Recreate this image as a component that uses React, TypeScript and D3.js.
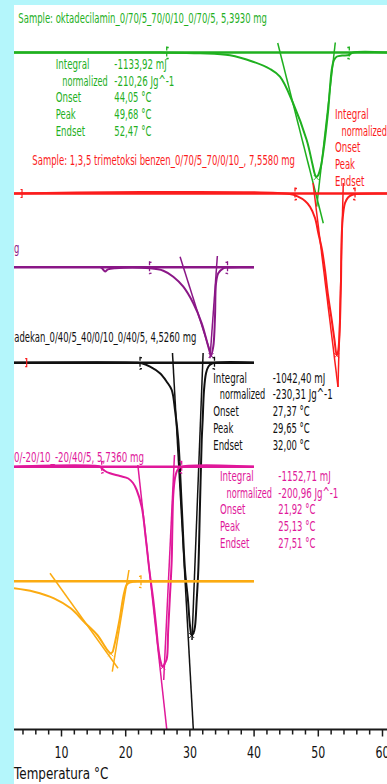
import React from "react";
import * as d3 from "d3";

type Pt = [number, number];

// Temperature axis (°C)
const majorTicks = [10, 20, 30, 40, 50, 60];
const minorTicks = [4, 6, 8, 12, 14, 16, 18, 22, 24, 26, 28, 32, 34, 36, 38, 42, 44, 46, 48, 52, 54, 56, 58];

// Heat-flow offsets of each stacked run (mW, plot units)
const offsets = { green: 67.65, red: 53.55, purple: 46.17, black: 36.63, pink: 26.23, orange: 14.77 };

// Curves: [temperature °C, heat flow relative to run baseline]
const greenCurve: Pt[] = [
  [2.6, 0], [16, 0], [25.3, -0.01], [31.6, -0.08], [36.25, -0.28], [39.83, -0.92], [42.48, -1.65],
  [44.03, -2.42], [46.06, -5.05], [48.19, -8.75], [49.1, -11.2], [49.45, -12.15], [49.68, -12.45],
  [49.95, -12.3], [50.4, -11.4], [50.85, -9.6], [51.5, -6.05], [52.09, -1.75], [52.45, -0.75],
  [52.91, -0.4], [53.7, -0.3], [54.8, -0.25], [55.3, -0.02], [60.8, 0],
];
const redCurve: Pt[] = [
  [2.6, 0], [45.59, -0.05], [46.85, -0.32], [47.94, -0.75], [48.71, -1.32], [49.49, -2.45], [50.0, -3.95],
  [50.58, -5.65], [51.04, -7.65], [51.51, -10.15], [52.09, -12.65], [52.52, -14.65], [52.87, -16.15],
  [53.07, -15.85], [53.3, -14.15], [53.43, -11.65], [53.54, -8.65], [53.64, -4.32], [53.85, -2.15],
  [54.16, -0.95], [54.63, -0.4], [55.2, -0.15], [55.87, -0.05], [60.8, 0],
];
const purpleCurve: Pt[] = [
  [2.6, 0.03], [15.69, 0.03], [16.0, 0.02], [16.31, -0.1], [16.78, -0.42], [17.24, -0.2], [18.33, -0.09],
  [23.79, -0.1], [25.86, -0.34], [27.41, -0.94], [28.97, -1.94], [30.53, -3.6], [31.84, -5.6],
  [32.87, -7.94], [33.29, -8.77], [33.64, -7.94], [33.91, -4.94], [34.07, -1.6], [34.42, -0.6],
  [35.2, -0.1], [35.93, -0.02], [39.98, 0],
];
const blackCurve: Pt[] = [
  [2.6, 0], [21.45, 0], [22.49, -0.06], [23.79, -0.4], [25.34, -1.06], [26.39, -1.9], [27.17, -2.73],
  [27.68, -4.73], [28.19, -7.73], [28.72, -14.23], [29.24, -20.73], [29.7, -23.73], [30.02, -26.33],
  [30.28, -27.23], [30.56, -27.03], [30.79, -26.4], [31.06, -23.73], [31.31, -20.73], [31.57, -14.23],
  [31.84, -7.73], [31.99, -5.73], [32.2, -2.73], [32.51, -1.06], [32.87, -0.4], [33.44, -0.08], [39.98, 0],
];
const pinkCurve: Pt[] = [
  [2.6, 0], [16.0, 0], [16.26, -0.16], [16.78, -0.43], [17.55, -0.66], [19.11, -0.93], [20.4, -1.18],
  [21.14, -1.63], [21.71, -2.33], [22.49, -4.0], [23.16, -7.33], [23.68, -10.33], [24.3, -13.33],
  [24.8, -16.33], [25.08, -18.13], [25.42, -19.43], [25.76, -20.0], [26.04, -19.73], [26.39, -19.23],
  [26.62, -16.33], [26.86, -13.33], [27.17, -9.33], [27.26, -6.33], [27.41, -2.83], [27.68, -1.13],
  [27.94, -0.5], [28.46, -0.06], [39.98, 0],
];
const orangeCurve: Pt[] = [
  [2.6, -0.7], [5.72, -1.04], [8.83, -1.7], [11.43, -2.7], [13.5, -4.04], [15.58, -5.37], [17.13, -6.87],
  [17.66, -7.2], [17.94, -7.07], [18.18, -6.54], [19.03, -3.87], [19.74, -1.2], [20.25, -0.27],
  [21.29, -0.04], [22.38, -0.02], [39.98, 0],
];

// Integration limits (°C)
const greenLimits = [26.39, 54.83];
const redLimits = [46.37, 55.72];
const purpleLimits = [23.71, 35.86];
const blackLimits = [22.23, 33.83];
const pinkLimits = [16.26, 28.72];
const orangeLimits = [22.38];

// Onset / endset tangents: baseline crossing (°C), top value, far end point
type Tangent = { cross: number; top: number; end: Pt };
const greenTangents: Tangent[] = [
  { cross: 44.05, top: 0.95, end: [50.78, -17.08] },
  { cross: 52.47, top: 1.0, end: [49.75, -15.42] },
];
const redTangents: Tangent[] = [
  { cross: 49.38, top: 1.05, end: [53.07, -19.35] },
  { cross: 53.85, top: 1.05, end: [53.07, -19.35] },
];
const purpleTangents: Tangent[] = [
  { cross: 28.99, top: 1.06, end: [33.4, -8.94] },
  { cross: 34.15, top: 1.13, end: [33.13, -9.1] },
];
const blackTangents: Tangent[] = [
  { cross: 27.37, top: 0.97, end: [30.53, -36.63] },
  { cross: 32.0, top: 0.97, end: [30.33, -27.73] },
];
const pinkTangents: Tangent[] = [
  { cross: 21.92, top: 0.17, end: [26.39, -26.23] },
  { cross: 27.51, top: 1.17, end: [25.92, -21.33] },
];
const orangeTangents: Tangent[] = [
  { cross: 9.1, top: 0.8, end: [18.8, -8.7] },
  { cross: 20.22, top: 1.13, end: [17.91, -9.04] },
];

// Result tables
const resultLabels = ["Integral", "normalized", "Onset", "Peak", "Endset"];
const greenResults = ["-1133,92 mJ", "-210,26 Jg^-1", "44,05 °C", "49,68 °C", "52,47 °C"];
const blackResults = ["-1042,40 mJ", "-230,31 Jg^-1", "27,37 °C", "29,65 °C", "32,00 °C"];
const pinkResults = ["-1152,71 mJ", "-200,96 Jg^-1", "21,92 °C", "25,13 °C", "27,51 °C"];

const titles = {
  green: "Sample: oktadecilamin_0/70/5_70/0/10_0/70/5, 5,3930 mg",
  red: "Sample: 1,3,5 trimetoksi benzen_0/70/5_70/0/10_, 7,5580 mg",
  purple: "g",
  black: "adekan_0/40/5_40/0/10_0/40/5, 4,5260 mg",
  pink: "0/-20/10_-20/40/5, 5,7360 mg",
};

const colors = {
  green: "#1fb01f",
  red: "#fb1c1c",
  purple: "#8a1787",
  black: "#111111",
  pink: "#e0189a",
  orange: "#fbab12",
};

const W = 387;
const H = 784;
const plotLeft = 14;
const plotTop = 5;
const axisY = 729.5;

const x = d3.scaleLinear().domain([10, 60]).range([61.5, 382.5]);
const y = d3.scaleLinear().domain([0, 72.4]).range([729, 5]);

const FONT = "'DejaVu Sans', Verdana, sans-serif";

type Run = {
  key: string;
  color: string;
  offset: number;
  curve: Pt[];
  limits: number[];
  tangents: Tangent[];
  end: number;
};

const runs: Run[] = [
  { key: "green", color: colors.green, offset: offsets.green, curve: greenCurve, limits: greenLimits, tangents: greenTangents, end: 60.8 },
  { key: "red", color: colors.red, offset: offsets.red, curve: redCurve, limits: redLimits, tangents: redTangents, end: 60.8 },
  { key: "purple", color: colors.purple, offset: offsets.purple, curve: purpleCurve, limits: purpleLimits, tangents: purpleTangents, end: 39.98 },
  { key: "black", color: colors.black, offset: offsets.black, curve: blackCurve, limits: blackLimits, tangents: blackTangents, end: 39.98 },
  { key: "pink", color: colors.pink, offset: offsets.pink, curve: pinkCurve, limits: pinkLimits, tangents: pinkTangents, end: 39.98 },
  { key: "orange", color: colors.orange, offset: offsets.orange, curve: orangeCurve, limits: orangeLimits, tangents: orangeTangents, end: 39.98 },
];

function Txt(props: {
  x: number; y: number; w?: number; fill: string; size?: number; anchor?: string; children: string;
}) {
  const { x: tx, y: ty, w, fill, size = 13.2, anchor = "start", children } = props;
  return (
    <text
      x={tx}
      y={ty}
      fill={fill}
      fontSize={size}
      fontFamily={FONT}
      textAnchor={anchor}
      textLength={w}
      lengthAdjust={w ? "spacingAndGlyphs" : undefined}
    >
      {children}
    </text>
  );
}

// Integration-limit marker: short vertical bar with inward nubs
function LimitMark({ cx, cy, color, dir }: { cx: number; cy: number; color: string; dir: number }) {
  return (
    <g stroke={color} strokeWidth={1.3} fill="none">
      <line x1={cx} x2={cx} y1={cy - 6} y2={cy + 7} strokeDasharray="4 2" />
      <line x1={cx} x2={cx + 2 * dir} y1={cy - 5} y2={cy - 5} />
      <line x1={cx} x2={cx + 2 * dir} y1={cy + 6} y2={cy + 6} />
    </g>
  );
}

function ResultBlock(props: {
  lx: number; vx?: number; y0: number; color: string; values?: string[];
  labelW: number[]; valueW?: number[];
}) {
  const { lx, vx, y0, color, values, labelW, valueW } = props;
  const step = 16.7;
  return (
    <g>
      {resultLabels.map((lab, i) => (
        <Txt key={lab} x={i === 1 ? lx + 6.5 : lx} y={y0 + i * step} w={labelW[i]} fill={color}>
          {lab}
        </Txt>
      ))}
      {values && vx !== undefined &&
        values.map((v, i) => (
          <Txt key={v} x={vx} y={y0 + i * step} w={valueW ? valueW[i] : undefined} fill={color}>
            {v}
          </Txt>
        ))}
    </g>
  );
}

export default function App() {
  const labelW = [33.7, 45.5, 25.5, 20, 29.3];
  const valueW = [52.5, 60, 37, 37, 37];

  return (
    <div style={{ position: "absolute", left: 0, top: 0 }}>
      <svg width={W} height={H} style={{ display: "block" }}>
        <defs>
          <clipPath id="plot-area">
            <rect x={plotLeft} y={plotTop} width={W - plotLeft} height={axisY - plotTop} />
          </clipPath>
        </defs>
        <rect x={0} y={0} width={W} height={H} fill="#b4f6fb" />
        <rect x={plotLeft} y={plotTop} width={W - plotLeft} height={H - plotTop} fill="#ffffff" />

        <g clipPath="url(#plot-area)">
          {runs.map((r) => {
            const line = d3
              .line<Pt>()
              .x((d) => x(d[0]))
              .y((d) => y(r.offset + d[1]))
              .curve(d3.curveCatmullRom.alpha(0.5));
            const straight = d3
              .line<Pt>()
              .x((d) => x(d[0]))
              .y((d) => y(r.offset + d[1]));
            const by = y(r.offset);
            const peak = r.curve.reduce((m, d) => (d[1] < m[1] ? d : m), r.curve[0]);
            return (
              <g key={r.key}>
                {/* run baseline */}
                <line x1={x(2.6)} x2={x(r.end)} y1={by} y2={by} stroke={r.color} strokeWidth={2.4} />
                {/* onset / endset tangents */}
                {r.tangents.map((t, i) => {
                  const tTop = t.cross + (t.end[0] - t.cross) * (t.top / t.end[1]);
                  return (
                    <path
                      key={i}
                      d={straight([[tTop, t.top], t.end]) || ""}
                      stroke={r.color}
                      strokeWidth={1.5}
                      fill="none"
                    />
                  );
                })}
                {/* measured curve */}
                <path d={line(r.curve) || ""} stroke={r.color} strokeWidth={2} fill="none" />
                {/* peak cross */}
                <g stroke={r.color} strokeWidth={0.9}>
                  <line x1={x(peak[0]) - 2.5} x2={x(peak[0]) + 2.5} y1={y(r.offset + peak[1]) - 2} y2={y(r.offset + peak[1]) + 3} />
                  <line x1={x(peak[0]) + 2.5} x2={x(peak[0]) - 2.5} y1={y(r.offset + peak[1]) - 2} y2={y(r.offset + peak[1]) + 3} />
                </g>
                {r.limits.map((l, i) => (
                  <LimitMark
                    key={i}
                    cx={x(l)}
                    cy={by}
                    color={r.color}
                    dir={r.limits.length === 2 && i === 0 ? 1 : -1}
                  />
                ))}
              </g>
            );
          })}
          {/* stray limit ticks of the red run */}
          <g stroke={colors.red} strokeWidth={1.2} fill="none">
            <path d={`M${x(3.85) - 1.5},${y(offsets.red) - 4} h1.5 v8 h-1.5`} />
            <path d={`M${x(4.58) - 1.5},${y(offsets.black) - 4} h1.5 v8 h-1.5`} />
          </g>
        </g>

        {/* titles */}
        <Txt x={18.3} y={22.5} w={248.7} fill={colors.green}>{titles.green}</Txt>
        <Txt x={32.3} y={164.5} w={262.7} fill={colors.red}>{titles.red}</Txt>
        <Txt x={14} y={253.3} w={5.3} fill={colors.purple}>{titles.purple}</Txt>
        <Txt x={14.3} y={341.7} w={182} fill={colors.black}>{titles.black}</Txt>
        <Txt x={14} y={461.7} w={130} fill={colors.pink}>{titles.pink}</Txt>

        {/* result tables */}
        <ResultBlock lx={55.7} vx={114.3} y0={69} color={colors.green} values={greenResults} labelW={labelW} valueW={valueW} />
        <ResultBlock lx={335} y0={119} color={colors.red} labelW={labelW} />
        <ResultBlock lx={213.3} vx={272.7} y0={382.7} color={colors.black} values={blackResults} labelW={labelW} valueW={valueW} />
        <ResultBlock lx={220} vx={278.3} y0={481} color={colors.pink} values={pinkResults} labelW={labelW} valueW={valueW} />

        {/* temperature axis */}
        <line x1={plotLeft} x2={W} y1={axisY} y2={axisY} stroke="#1a1a1a" strokeWidth={2} />
        <g stroke="#1a1a1a" strokeWidth={1.5}>
          {minorTicks.map((t) => (
            <line key={t} x1={x(t)} x2={x(t)} y1={axisY} y2={axisY + 5} />
          ))}
          {majorTicks.map((t) => (
            <line key={t} x1={x(t)} x2={x(t)} y1={axisY} y2={axisY + 7} />
          ))}
        </g>
        {majorTicks.map((t) => (
          <Txt key={t} x={x(t)} y={758} w={14} size={16} anchor="middle" fill="#111111">
            {String(t)}
          </Txt>
        ))}
        <Txt x={14} y={778.5} w={94.3} size={15.5} fill="#111111">Temperatura °C</Txt>
      </svg>
    </div>
  );
}
